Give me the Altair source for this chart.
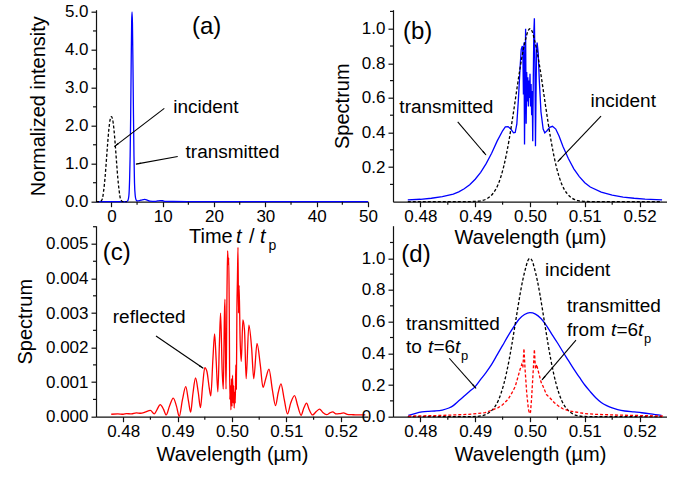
import math
import altair as alt
import pandas as pd

FONT = "Liberation Sans"
BLUE = "#0000ff"
RED = "#ff0000"
BLACK = "#000000"
AXC = "#111111"

# ---------------- data ----------------
# (a) time domain, t / tp vs normalized intensity
a_incident = [(-3.0, 0.0), (-2.25, 0.0), (-2.0, 0.02), (-1.75, 0.08), (-1.5, 0.30), (-1.25, 0.62),
              (-1.0, 1.05), (-0.75, 1.50), (-0.5, 1.90), (-0.25, 2.16), (0.0, 2.24), (0.25, 2.16),
              (0.5, 1.90), (0.75, 1.50), (1.0, 1.05), (1.25, 0.62), (1.5, 0.30), (1.75, 0.08),
              (2.0, 0.02), (2.25, 0.0), (3.0, 0.0)]
a_transmitted = [(-3.0, 0.0), (2.9, 0.0), (3.2, 0.03), (3.4, 0.15), (3.55, 0.6), (3.65, 1.2),
                 (3.75, 2.2), (3.85, 3.6), (3.95, 4.75), (4.02, 5.0), (4.1, 4.7), (4.2, 3.6),
                 (4.3, 2.3), (4.4, 1.2), (4.5, 0.5), (4.65, 0.15), (4.8, 0.05), (5.0, 0.02),
                 (5.5, 0.03), (6.0, 0.05), (6.5, 0.06), (7.0, 0.04), (7.5, 0.015), (8.5, 0.01),
                 (9.0, 0.02), (9.5, 0.03), (10.0, 0.025), (10.5, 0.01), (12.0, 0.005), (15.0, 0.003),
                 (20.0, 0.002), (30.0, 0.001), (40.0, 0.001), (50.0, 0.0)]

# (b) spectra
b_transmitted = [(0.4777, 0.010), (0.480, 0.014), (0.482, 0.020), (0.484, 0.029), (0.486, 0.044),
                 (0.487, 0.057), (0.488, 0.075), (0.489, 0.098), (0.490, 0.13), (0.491, 0.17),
                 (0.492, 0.22), (0.493, 0.28), (0.494, 0.35), (0.495, 0.41), (0.4955, 0.432),
                 (0.4960, 0.434), (0.4965, 0.42), (0.4970, 0.398), (0.4973, 0.40), (0.4976, 0.45),
                 (0.4979, 0.60), (0.4982, 0.78), (0.4984, 0.88), (0.4986, 0.90), (0.4987, 0.86),
                 (0.4988, 0.62), (0.4989, 0.92), (0.4990, 0.33), (0.4991, 0.70), (0.4992, 1.00),
                 (0.4993, 0.45), (0.4994, 0.75), (0.4995, 0.58), (0.4996, 0.72), (0.4997, 0.55),
                 (0.4998, 0.70), (0.4999, 0.60), (0.5000, 0.74), (0.5001, 0.55), (0.5002, 0.68),
                 (0.5003, 0.50), (0.5004, 0.64), (0.5005, 0.35), (0.5006, 0.70), (0.5007, 0.98),
                 (0.5008, 1.06), (0.5009, 0.80), (0.5010, 0.32), (0.5011, 0.62), (0.5012, 0.88),
                 (0.5013, 0.92), (0.5015, 0.86), (0.5017, 0.70), (0.5020, 0.52), (0.5024, 0.42),
                 (0.5027, 0.398), (0.5031, 0.41), (0.5036, 0.43), (0.5041, 0.436), (0.5047, 0.42),
                 (0.5053, 0.38), (0.506, 0.32), (0.507, 0.25), (0.508, 0.19), (0.509, 0.145),
                 (0.510, 0.11), (0.511, 0.085), (0.513, 0.055), (0.515, 0.038), (0.517, 0.027),
                 (0.519, 0.020), (0.521, 0.015), (0.5241, 0.010)]
incident_spec = [(0.4777, 0.0), (0.488, 0.0), (0.4902, 0.002), (0.4912, 0.006), (0.4922, 0.018),
                 (0.4932, 0.046), (0.4942, 0.101), (0.4947, 0.146), (0.4952, 0.203), (0.4957, 0.275),
                 (0.4962, 0.36), (0.4967, 0.458), (0.4972, 0.563), (0.4977, 0.671), (0.4982, 0.775),
                 (0.4987, 0.866), (0.4992, 0.938), (0.4996, 0.984), (0.5000, 1.0), (0.5004, 0.984),
                 (0.5008, 0.938), (0.5013, 0.866), (0.5018, 0.775), (0.5023, 0.671), (0.5028, 0.563),
                 (0.5033, 0.458), (0.5038, 0.36), (0.5043, 0.275), (0.5048, 0.203), (0.5053, 0.146),
                 (0.5058, 0.101), (0.5068, 0.046), (0.5078, 0.018), (0.5088, 0.006), (0.5098, 0.002),
                 (0.512, 0.0), (0.5241, 0.0)]

# (c) reflected spectrum
c_reflected = [(0.4778, 0.00007), (0.4790, 0.00008), (0.4800, 0.00007), (0.4806, 0.00009),
               (0.4815, 0.00008), (0.4824, 0.00011), (0.4832, 0.00010), (0.4840, 0.00013),
               (0.4850, 0.00018), (0.4857, 0.00008), (0.4862, 0.00020), (0.4868, 0.00035),
               (0.4874, 0.00022), (0.4879, 0.00005), (0.4885, 0.00030), (0.4892, 0.00054),
               (0.4898, 0.00030), (0.4903, 0.00001), (0.4909, 0.00050), (0.4915, 0.00087),
               (0.4920, 0.00045), (0.4924, 0.00013), (0.4928, 0.00065), (0.4933, 0.00112),
               (0.4938, 0.00070), (0.4942, 0.00026), (0.4946, 0.00090), (0.4950, 0.00142),
               (0.4954, 0.00130), (0.4958, 0.00085), (0.4961, 0.00060), (0.4965, 0.00170),
               (0.4968, 0.00240), (0.4971, 0.00160), (0.4974, 0.00072), (0.4977, 0.00220),
               (0.4979, 0.00300), (0.4982, 0.00130), (0.4984, 0.00080), (0.4986, 0.00290),
               (0.4987, 0.00340), (0.4988, 0.00200), (0.4989, 0.00080), (0.4991, 0.00390),
               (0.4992, 0.00480), (0.4993, 0.00440), (0.4994, 0.00460), (0.4995, 0.00300),
               (0.4996, 0.00050), (0.4997, 0.00090), (0.4998, 0.00020), (0.4999, 0.00110),
               (0.5000, 0.00030), (0.5001, 0.00120), (0.5002, 0.00040), (0.5003, 0.00090),
               (0.5004, 0.00025), (0.5005, 0.00070), (0.5006, 0.00040), (0.5007, 0.00150),
               (0.5008, 0.00080), (0.5009, 0.00310), (0.5010, 0.00400), (0.5011, 0.00490),
               (0.5012, 0.00300), (0.5013, 0.00380), (0.5015, 0.00220), (0.5017, 0.00160),
               (0.5020, 0.00280), (0.5023, 0.00250), (0.5026, 0.00110), (0.5031, 0.00265),
               (0.5036, 0.00200), (0.5040, 0.00110), (0.5046, 0.00212), (0.5052, 0.00150),
               (0.5057, 0.00085), (0.5062, 0.00110), (0.5068, 0.00138), (0.5074, 0.00080),
               (0.5080, 0.00032), (0.5085, 0.00070), (0.5090, 0.00095), (0.5096, 0.00050),
               (0.5102, 0.00008), (0.5108, 0.00040), (0.5115, 0.00061), (0.5121, 0.00030),
               (0.5127, 0.00004), (0.5132, 0.00025), (0.5137, 0.00039), (0.5142, 0.00020),
               (0.5148, 0.00005), (0.5155, 0.00015), (0.5161, 0.00022), (0.5167, 0.00012),
               (0.5174, 0.00006), (0.5180, 0.00011), (0.5185, 0.00014), (0.5192, 0.00008),
               (0.5198, 0.00009), (0.5205, 0.00011), (0.5212, 0.00007), (0.5220, 0.00006),
               (0.5230, 0.00005), (0.5245, 0.00005)]

# (d) spectra of the transmitted pulse split at t = 6 tp
d_to6 = [(0.4778, 0.008), (0.4790, 0.020), (0.4803, 0.030), (0.4815, 0.034), (0.4827, 0.036),
         (0.4840, 0.042), (0.4852, 0.055), (0.486, 0.07), (0.487, 0.10), (0.488, 0.13),
         (0.489, 0.16), (0.490, 0.19), (0.491, 0.235), (0.492, 0.28), (0.493, 0.33), (0.494, 0.39),
         (0.495, 0.45), (0.496, 0.51), (0.497, 0.565), (0.498, 0.615), (0.499, 0.645), (0.500, 0.657),
         (0.501, 0.648), (0.502, 0.62), (0.503, 0.575), (0.504, 0.52), (0.505, 0.467), (0.506, 0.41),
         (0.507, 0.355), (0.508, 0.30), (0.509, 0.25), (0.510, 0.20), (0.511, 0.158), (0.512, 0.12),
         (0.513, 0.09), (0.514, 0.07), (0.515, 0.055), (0.516, 0.045), (0.5173, 0.036),
         (0.519, 0.030), (0.5204, 0.025), (0.522, 0.018), (0.524, 0.008)]
d_from6 = [(0.4778, 0.004), (0.484, 0.008), (0.4888, 0.015), (0.4918, 0.025), (0.4942, 0.057),
           (0.495, 0.075), (0.496, 0.11), (0.4967, 0.15), (0.4973, 0.19), (0.4978, 0.25),
           (0.4982, 0.30), (0.4985, 0.33), (0.4987, 0.31), (0.4989, 0.43), (0.4991, 0.30),
           (0.4994, 0.15), (0.4997, 0.05), (0.4999, 0.02), (0.5001, 0.03), (0.5003, 0.12),
           (0.5006, 0.30), (0.5008, 0.425), (0.5010, 0.30), (0.5012, 0.33), (0.5015, 0.29),
           (0.5020, 0.22), (0.5024, 0.19), (0.5030, 0.14), (0.5036, 0.12), (0.5044, 0.09),
           (0.5052, 0.067), (0.5060, 0.05), (0.5070, 0.038), (0.5082, 0.03), (0.5100, 0.02),
           (0.5118, 0.015), (0.5160, 0.01), (0.5245, 0.004)]

# tick values (major carry labels, minor are short unlabeled ticks)
a_x_major = [0, 10, 20, 30, 40, 50]
a_x_minor = [5, 15, 25, 35, 45]
a_y_major = [0.0, 1.0, 2.0, 3.0, 4.0, 5.0]
a_y_minor = [0.5, 1.5, 2.5, 3.5, 4.5]
wl_major = [0.48, 0.49, 0.50, 0.51, 0.52]
wl_minor = [0.485, 0.495, 0.505, 0.515]
b_y_major = [0.2, 0.4, 0.6, 0.8, 1.0]
b_y_minor = [0.1, 0.3, 0.5, 0.7, 0.9, 1.1]
c_y_major = [0.000, 0.001, 0.002, 0.003, 0.004, 0.005]
c_y_minor = [0.0005, 0.0015, 0.0025, 0.0035, 0.0045, 0.0055]
d_y_major = [0.0, 0.2, 0.4, 0.6, 0.8, 1.0]
d_y_minor = [0.1, 0.3, 0.5, 0.7, 0.9, 1.1]


# ---------------- helpers ----------------
def make_axis(vals, fmt, title, tpad, lpad):
    return alt.Axis(values=vals, format=fmt, tickSize=5, title=title, titlePadding=tpad,
                    labelPadding=lpad, labelOverlap=False, labelFlush=False, grid=False)


def panel(W, H, xdom, ydom, xax, yax, xminor, yminor, lines, texts, arrows, pix_texts=()):
    xs = alt.Scale(domain=xdom, nice=False, zero=False)
    ys = alt.Scale(domain=ydom, nice=False, zero=False)

    def X(f):
        return alt.X(f, scale=xs, axis=xax)

    def Y(f):
        return alt.Y(f, scale=ys, axis=yax)

    def to_px(x, y):
        return ((x - xdom[0]) / (xdom[1] - xdom[0]) * W,
                H - (y - ydom[0]) / (ydom[1] - ydom[0]) * H)

    def from_px(px, py):
        return (xdom[0] + px / W * (xdom[1] - xdom[0]),
                ydom[0] + (H - py) / H * (ydom[1] - ydom[0]))

    layers = []
    for (pts, color, dash, sw, interp) in lines:
        df = pd.DataFrame({"x": [p[0] for p in pts], "y": [p[1] for p in pts]})
        kw = dict(color=color, strokeWidth=sw, interpolate=interp)
        if dash:
            kw["strokeDash"] = dash
        layers.append(alt.Chart(df).mark_line(**kw).encode(x=X("x:Q"), y=Y("y:Q")))

    # minor ticks, placed through the scales
    layers.append(alt.Chart(pd.DataFrame({"x": xminor})).mark_rule(
        color=AXC, strokeWidth=1.2).encode(x=X("x:Q"), y=alt.value(H), y2=alt.value(H + 3)))
    layers.append(alt.Chart(pd.DataFrame({"y": yminor})).mark_rule(
        color=AXC, strokeWidth=1.2).encode(y=Y("y:Q"), x=alt.value(0), x2=alt.value(-3)))

    for (sx, sy, ex, ey) in arrows:
        p0 = to_px(sx, sy)
        p1 = to_px(ex, ey)
        dx, dy = p1[0] - p0[0], p1[1] - p0[1]
        L = math.hypot(dx, dy)
        ux, uy = dx / L, dy / L
        hx, hy = from_px(p1[0] - ux * 3.0, p1[1] - uy * 3.0)
        ang = math.degrees(math.atan2(ux, -uy)) % 360
        rdf = pd.DataFrame({"x": [sx], "y": [sy], "x2": [ex], "y2": [ey]})
        layers.append(alt.Chart(rdf).mark_rule(color=BLACK, strokeWidth=1.1).encode(
            x=X("x:Q"), y=Y("y:Q"), x2="x2:Q", y2="y2:Q"))
        hdf = pd.DataFrame({"x": [hx], "y": [hy], "ang": [ang]})
        layers.append(alt.Chart(hdf).mark_point(shape="wedge", filled=True, size=40, color=BLACK,
                                                opacity=1).encode(
            x=X("x:Q"), y=Y("y:Q"), angle=alt.Angle("ang:Q", scale=None)))

    for t in texts:
        tdf = pd.DataFrame({"x": [t["x"]], "y": [t["y"]], "t": [t["text"]]})
        layers.append(alt.Chart(tdf).mark_text(
            font=FONT, fontSize=t.get("size", 19), align=t.get("align", "left"),
            baseline="alphabetic", dx=t.get("dx", 0), dy=t.get("dy", 0),
            fontStyle="italic" if t.get("italic") else "normal", color=BLACK).encode(
            x=X("x:Q"), y=Y("y:Q"), text="t:N"))

    for t in pix_texts:
        tdf = pd.DataFrame({"t": [t["text"]]})
        layers.append(alt.Chart(tdf).mark_text(
            font=FONT, fontSize=t.get("size", 20), align="left", baseline="alphabetic",
            fontStyle="italic" if t.get("italic") else "normal", color=BLACK).encode(
            x=alt.value(t["px"]), y=alt.value(t["py"]), text="t:N"))

    return alt.layer(*layers).properties(width=W, height=H)


def sub_label(x, y, first, size=19):
    # "<first>t=6t_p" built from pieces
    w_first = {"to": 21.5, "from": 43.5}[first]
    return [
        dict(x=x, y=y, text=first, size=size),
        dict(x=x, y=y, text="t", size=size, italic=True, dx=w_first + 0.5),
        dict(x=x, y=y, text="=6", size=size, dx=w_first + 6.0),
        dict(x=x, y=y, text="t", size=size, italic=True, dx=w_first + 27.5),
        dict(x=x, y=y, text="p", size=13, dx=w_first + 33.5, dy=7),
    ]


WL = [0.475, 0.525]
TY = 233.5  # baseline of the "Time t / tp" title inside panel (a)

# ---------------- panel (a) ----------------
pa = panel(
    272, 192, [-3, 50], [0, 5.06],
    make_axis(a_x_major, "d", "", 2, 2),
    make_axis(a_y_major, ".1f", "Normalized intensity", 16, 3),
    a_x_minor, a_y_minor,
    [(a_transmitted, BLUE, None, 1.3, "monotone"),
     (a_incident, BLACK, [3, 2], 1.3, "monotone")],
    [dict(x=18.57, y=4.41, text="(a)", size=24, align="center"),
     dict(x=18.42, y=2.35, text="incident", size=19, align="center"),
     dict(x=23.6, y=1.14, text="transmitted", size=19, align="center")],
    [(10.31, 2.46, 0.57, 1.45), (12.92, 1.19, 4.79, 0.99)],
    pix_texts=[dict(text="Time", px=93, py=TY),
               dict(text="t", px=140, py=TY, italic=True),
               dict(text="/", px=153, py=TY),
               dict(text="t", px=164, py=TY, italic=True),
               dict(text="p", px=172.5, py=TY + 7, size=14)])

# ---------------- panel (b) ----------------
pb = panel(
    274, 192, WL, [0, 1.11],
    make_axis(wl_major, ".2f", "Wavelength (µm)", 3, 2),
    make_axis(b_y_major, ".1f", "Spectrum", 9, 3),
    wl_minor, b_y_minor,
    [(b_transmitted, BLUE, None, 1.3, "linear"),
     (incident_spec, BLACK, [3, 2], 1.3, "monotone")],
    [dict(x=0.4795, y=0.939, text="(b)", size=24, align="center"),
     dict(x=0.48473, y=0.511, text="transmitted", size=19, align="center"),
     dict(x=0.51701, y=0.549, text="incident", size=19, align="center")],
    [(0.48681, 0.462, 0.49197, 0.27), (0.51296, 0.495, 0.50506, 0.231)])

# ---------------- panel (c) ----------------
pc = panel(
    272, 191, WL, [0, 0.00553],
    make_axis(wl_major, ".2f", "Wavelength (µm)", 5, 2),
    make_axis(c_y_major, ".3f", "Spectrum", 10, 3),
    wl_minor, c_y_minor,
    [(c_reflected, RED, None, 1.3, "monotone")],
    [dict(x=0.47882, y=0.004536, text="(c)", size=24, align="center"),
     dict(x=0.48478, y=0.002721, text="reflected", size=19, align="center")],
    [(0.48603, 0.002336, 0.49472, 0.001401)])

# ---------------- panel (d) ----------------
pdd = panel(
    274, 191, WL, [0, 1.206],
    make_axis(wl_major, ".2f", "Wavelength (µm)", 5, 2),
    make_axis(d_y_major, ".1f", "", 2, 3),
    wl_minor, d_y_minor,
    [(d_to6, BLUE, None, 1.3, "monotone"),
     (incident_spec, BLACK, [3, 2], 1.3, "monotone"),
     (d_from6, RED, [3, 2], 1.3, "linear")],
    [dict(x=0.4792, y=0.979, text="(d)", size=24, align="center"),
     dict(x=0.5087, y=0.890, text="incident", size=19, align="center"),
     dict(x=0.47737, y=0.547, text="transmitted", size=19),
     dict(x=0.50675, y=0.663, text="transmitted", size=19)]
    + sub_label(0.47737, 0.404, "to")
    + sub_label(0.50675, 0.509, "from"),
    [(0.48527, 0.369, 0.49015, 0.179), (0.50839, 0.484, 0.50219, 0.232)])

chart = alt.concat(
    pa, pb, pc, pdd, columns=2, spacing={"row": 24, "column": 25}, bounds="flush", align="each"
).properties(
    padding={"left": 15, "top": 2.7, "right": 0, "bottom": 0}
).configure(font=FONT).configure_view(stroke=None).configure_axis(
    labelFont=FONT, titleFont=FONT, labelFontSize=17, titleFontSize=20,
    titleFontWeight="normal", labelColor=BLACK, titleColor=BLACK,
    domainColor=AXC, tickColor=AXC, domainWidth=1.2, tickWidth=1.2, grid=False)

chart.save("out.html", embed_options={"renderer": "svg", "actions": False})
